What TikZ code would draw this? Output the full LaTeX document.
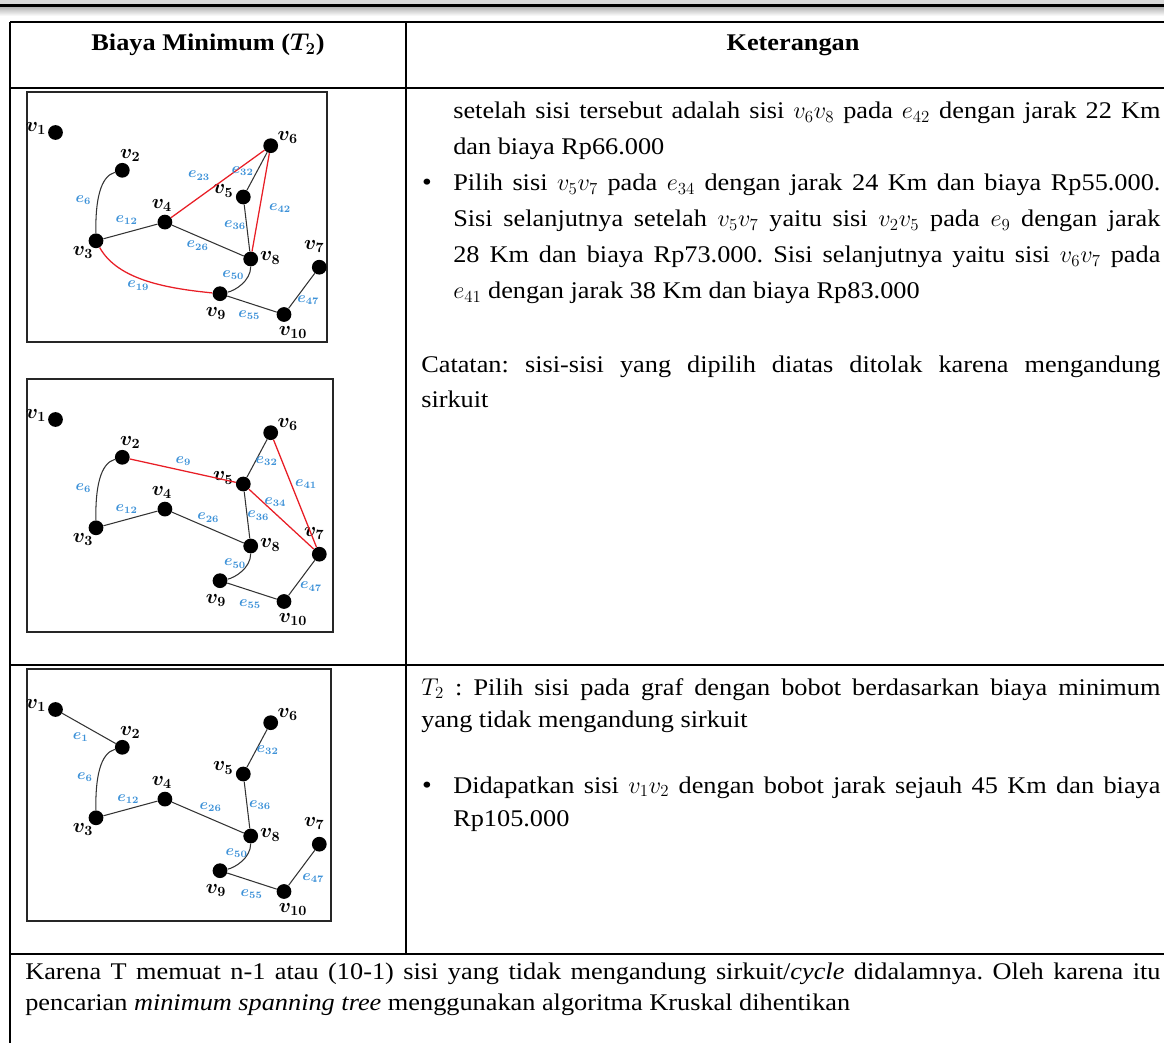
\documentclass[tikz,border=0pt]{standalone}
\usepackage{amsmath}
\usepackage{fontspec}
\setmainfont{Liberation Serif}[FakeStretch=1.1]
\usetikzlibrary{calc}

\definecolor{eblue}{RGB}{62,146,216}
\definecolor{redge}{RGB}{232,30,38}

\tikzset{
  vtx/.style={circle, fill=black, inner sep=0pt, minimum size=10.5},
  vlab/.style={inner sep=0pt, font=\fontsize{14}{15}\selectfont\boldmath},
  elab/.style={inner sep=0pt, text=eblue, font=\fontsize{10.5}{10.5}\selectfont\boldmath},
  edg/.style={draw=black!80, line width=0.75pt},
  redg/.style={draw=redge, line width=0.9pt},
  frm/.style={draw=black!85, line width=1.2pt},
  tbl/.style={draw=black, line width=1.5pt},
  txt/.style={anchor=base west, inner sep=0pt, align=justify, font=\fontsize{17}{#1}\selectfont\frenchspacing},
  txt/.default=25.5,
  bul/.style={anchor=base, inner sep=0pt, font=\fontsize{18}{20}\selectfont}
}

% the ten vertices of the graph, #1 is the name prefix
\newcommand{\kruskalvertices}[1]{%
  \foreach \i/\px/\py/\lx/\ly in {1/28.5/40.5/-19.5/-4, 2/95.3/78.3/8/-15,
      3/69/148.8/-13/12, 4/137.9/130.1/-3/-17, 5/216.3/105/-20/-6,
      6/243.7/53.7/17/-8, 7/292.3/175.2/-5/-21, 8/223.7/167/19.5/-1,
      9/193/201.7/-4/20, 10/257/222.5/9/18}{
    \node[vtx] (#1\i) at (\px,\py) {};
    \node[vlab] (#1l\i) at (\px+\lx,\py+\ly) {$v_{\i}$};
  }%
}

\begin{document}
\begin{tikzpicture}[x=0.025cm, y=-0.025cm]
\useasboundingbox (0,0) rectangle (1164,1043);

% page header rule
\fill[gray!30] (0,0) rectangle (1164,4);
\fill[black] (0,4) rectangle (1164,7.5);
\shade[top color=gray!55, bottom color=white] (0,7.5) rectangle (1164,16);

% table
\draw[tbl] (10,22) -- (1164,22);
\draw[tbl] (10,88) -- (1164,88);
\draw[tbl] (10,665) -- (1164,665);
\draw[tbl] (10,954) -- (1164,954);
\draw[tbl] (10,22) -- (10,1043);
\draw[tbl] (406,22) -- (406,954);

\node[anchor=base, inner sep=0pt, font=\fontsize{17}{20}\selectfont\bfseries] (h1) at (208,51) {Biaya Minimum ($\boldsymbol{T_2}$)};
\node[anchor=base, inner sep=0pt, font=\fontsize{17}{20}\selectfont\bfseries] (h2) at (793,51) {Keterangan};

% graph with v6v8, v3v9, v4v6 rejected
\begin{scope}[shift={(27,92)}]
  \draw[frm] (0,0) rectangle (300,250);
  \kruskalvertices{a}
  \draw[edg] (a2) .. controls (73.3,84.3) and (68.3,108.3) .. (a3);
  \draw[edg] (a3) -- (a4) -- (a8);
  \draw[edg] (a6) -- (a5) -- (a8);
  \draw[edg] (a8) .. controls (223.7,189) and (208,198.7) .. (a9);
  \draw[edg] (a9) -- (a10) -- (a7);
  \draw[redg] (a4) -- (a6) -- (a8);
  \draw[redg] (a3) .. controls (91,188.8) and (143,196.7) .. (a9);
  \node[elab] (ae6) at (56.3,108) {$e_{6}$};
  \node[elab] (ae12) at (99.7,128) {$e_{12}$};
  \node[elab] (ae23) at (172,83.7) {$e_{23}$};
  \node[elab] (ae32) at (215.7,79) {$e_{32}$};
  \node[elab] (ae42) at (253,116.3) {$e_{42}$};
  \node[elab] (ae36) at (208,133) {$e_{36}$};
  \node[elab] (ae26) at (170.7,153.7) {$e_{26}$};
  \node[elab] (ae50) at (206.3,183) {$e_{50}$};
  \node[elab] (ae19) at (111.3,193.7) {$e_{19}$};
  \node[elab] (ae55) at (222.3,223) {$e_{55}$};
  \node[elab] (ae47) at (281.3,208) {$e_{47}$};
\end{scope}

% graph with v5v7, v2v5, v6v7 rejected
\begin{scope}[shift={(27,379)}]
  \draw[frm] (0,0) rectangle (306,253);
  \kruskalvertices{b}
  \draw[edg] (b2) .. controls (73.3,84.3) and (68.3,108.3) .. (b3);
  \draw[edg] (b3) -- (b4) -- (b8);
  \draw[edg] (b6) -- (b5) -- (b8);
  \draw[edg] (b8) .. controls (223.7,189) and (208,198.7) .. (b9);
  \draw[edg] (b9) -- (b10) -- (b7);
  \draw[redg] (b2) -- (b5) -- (b7) -- (b6);
  \node[elab] (be9) at (156.3,82) {$e_{9}$};
  \node[elab] (be32) at (239.7,82) {$e_{32}$};
  \node[elab] (be41) at (279,105.3) {$e_{41}$};
  \node[elab] (be34) at (248.3,123.3) {$e_{34}$};
  \node[elab] (be36) at (231.3,136.7) {$e_{36}$};
  \node[elab] (be26) at (181.3,138.7) {$e_{26}$};
  \node[elab] (be12) at (99.7,130) {$e_{12}$};
  \node[elab] (be6) at (56.3,109.3) {$e_{6}$};
  \node[elab] (be50) at (208,184.7) {$e_{50}$};
  \node[elab] (be55) at (223,225.3) {$e_{55}$};
  \node[elab] (be47) at (284,207.7) {$e_{47}$};
\end{scope}

% spanning tree T2
\begin{scope}[shift={(27,669)}]
  \draw[frm] (0,0) rectangle (304,252);
  \kruskalvertices{c}
  \draw[edg] (c1) -- (c2);
  \draw[edg] (c2) .. controls (73.3,84.3) and (68.3,108.3) .. (c3);
  \draw[edg] (c3) -- (c4) -- (c8);
  \draw[edg] (c6) -- (c5) -- (c8);
  \draw[edg] (c8) .. controls (223.7,189) and (208,198.7) .. (c9);
  \draw[edg] (c9) -- (c10) -- (c7);
  \node[elab] (ce1) at (53.7,68.3) {$e_{1}$};
  \node[elab] (ce6) at (58,108.3) {$e_{6}$};
  \node[elab] (ce12) at (101.3,130.3) {$e_{12}$};
  \node[elab] (ce26) at (183.7,138.3) {$e_{26}$};
  \node[elab] (ce32) at (240.7,81) {$e_{32}$};
  \node[elab] (ce36) at (233,136.3) {$e_{36}$};
  \node[elab] (ce50) at (209.7,184.3) {$e_{50}$};
  \node[elab] (ce55) at (224.7,225) {$e_{55}$};
  \node[elab] (ce47) at (286.3,209.3) {$e_{47}$};
\end{scope}

% keterangan
\node[txt, text width=17.675cm] (k1) at (453,119)
  {setelah sisi tersebut adalah sisi $v_6v_8$ pada $e_{42}$ dengan jarak 22 Km\linebreak
   dan biaya Rp66.000};
\node[bul] (b1) at (427,191) {\textbullet};
\node[txt, text width=17.675cm] (k2) at (453,191)
  {Pilih sisi $v_5v_7$ pada $e_{34}$ dengan jarak 24 Km dan biaya Rp55.000.\linebreak
   Sisi selanjutnya setelah $v_5v_7$ yaitu sisi $v_2v_5$ pada $e_9$ dengan jarak\linebreak
   28 Km dan biaya Rp73.000. Sisi selanjutnya yaitu sisi $v_6v_7$ pada\linebreak
   $e_{41}$ dengan jarak 38 Km dan biaya Rp83.000};
\node[txt=24.5, text width=18.475cm] (k3) at (421,373)
  {Catatan: sisi-sisi yang dipilih diatas ditolak karena mengandung\linebreak
   sirkuit};

\node[txt=23, text width=18.475cm] (k4) at (421,695)
  {$T_2$ : Pilih sisi pada graf dengan bobot berdasarkan biaya minimum\linebreak
   yang tidak mengandung sirkuit};
\node[bul] (b2) at (427,793) {\textbullet};
\node[txt=23.5, text width=17.675cm] (k5) at (453,793)
  {Didapatkan sisi $v_1v_2$ dengan bobot jarak sejauh 45 Km dan biaya\linebreak
   Rp105.000};

\node[txt=22.5, text width=28.375cm] (k6) at (25,979)
  {Karena T memuat n-1 atau (10-1) sisi yang tidak mengandung sirkuit/\textit{cycle} didalamnya. Oleh karena itu\linebreak
   pencarian \textit{minimum spanning tree} menggunakan algoritma Kruskal dihentikan};
\end{tikzpicture}
\end{document}
